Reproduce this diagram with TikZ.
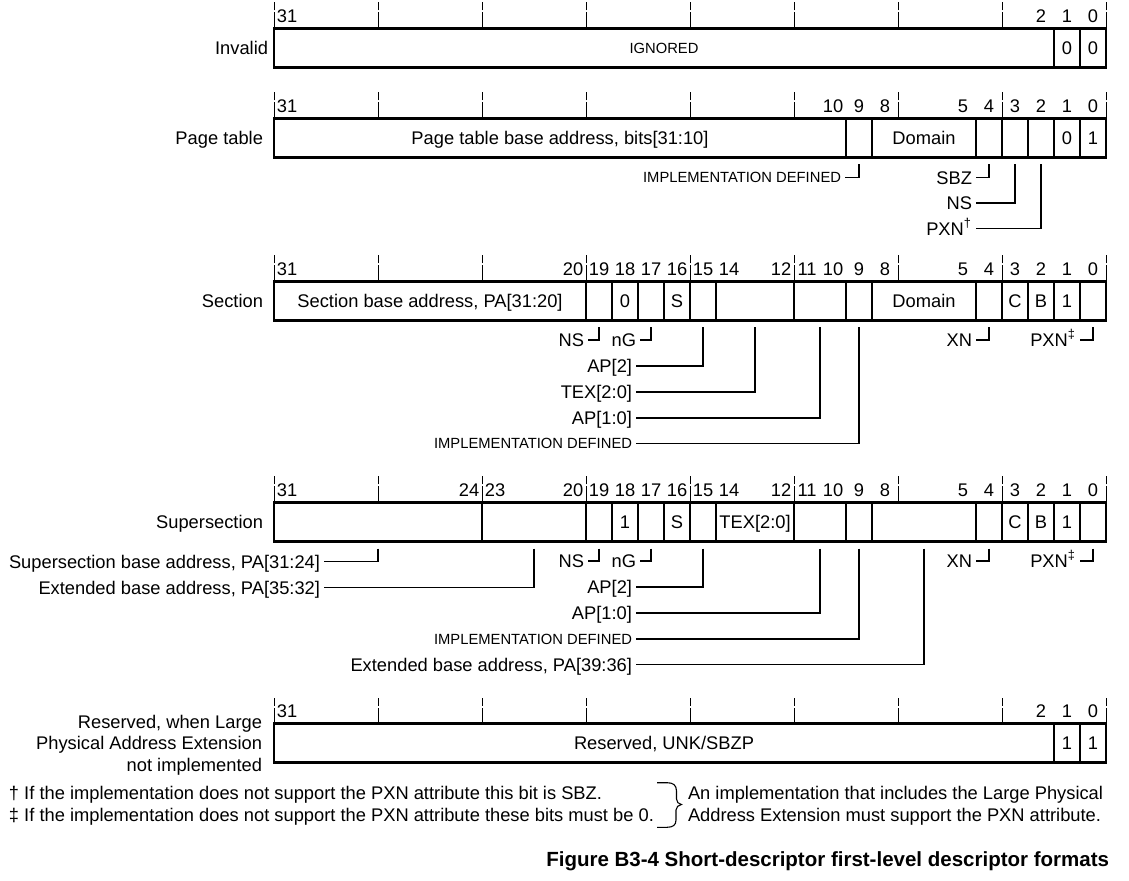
\documentclass[tikz,border=0pt]{standalone}
\usepackage{fontspec}
\setmainfont{Liberation Sans}
\newcommand\fsmain{\fontsize{9.15}{11}\selectfont}
\newcommand\fssmall{\fontsize{7.38}{9}\selectfont}
\newcommand\fscap{\fontsize{10.25}{12}\selectfont\bfseries}
\tikzset{
  regbox/.style={line width=1.1pt},
  bitdiv/.style={line width=1.1pt},
  nibtick/.style={line width=0.5pt, dash pattern=on 8pt off 1pt},
  lead/.style={line width=0.55pt},
  txt/.style={inner sep=0pt, outer sep=0pt, font=\fsmain, text height=6.55pt, text depth=0pt},
  stxt/.style={inner sep=0pt, outer sep=0pt, font=\fssmall, text height=5.28pt, text depth=0pt},
  ctxt/.style={inner sep=0pt, outer sep=0pt, font=\fscap, text height=7.34pt, text depth=0pt},
}
% #1 name, #2 top y, #3 divider bits, #4 bit numbers
\newcommand\regrow[4]{%
  \draw[regbox] (274,#2) rectangle (1106,{#2+39});
  \foreach \b in {#3} \draw[bitdiv] ({274+(31-\b)*26},#2) -- ({274+(31-\b)*26},{#2+39});
  \foreach \k in {0,...,8} \draw[nibtick] ({274+104*\k},#2) -- ({274+104*\k},{#2-26});
  \foreach \b in {#4} \node[txt] (#1-n\b) at ({287+(31-\b)*26},{#2-13}) {\b};
}
% #1 name, #2 style, #3 vertical x, #4 start y, #5 text east x, #6 y, #7 text
\newcommand\leadto[7]{%
  \coordinate (#1-s) at (#3,#4);
  \node[#2, anchor=east] (#1) at (#5,#6) {#7};
  \draw[lead] (#1-s) |- ([xshift=2pt]#1.east);
}
\begin{document}
\begin{tikzpicture}[x=0.5pt, y=-0.5pt]
\fill[white] (0,0) rectangle (1129,881);
\useasboundingbox (0,0) rectangle (1129,881);

% ---------- Invalid ----------
\regrow{inv}{28.5}{1,0}{31,2,1,0}
\node[txt, anchor=east] (inv-lbl) at (268,48) {Invalid};
\node[stxt] (inv-f1) at (664,48) {IGNORED};
\node[txt] (inv-f2) at (1067,48) {0};
\node[txt] (inv-f3) at (1093,48) {0};

% ---------- Page table ----------
\regrow{pt}{118.5}{9,8,4,3,2,1,0}{31,10,9,8,5,4,3,2,1,0}
\node[txt, anchor=east] (pt-lbl) at (263,138) {Page table};
\node[txt] (pt-f1) at (560,138) {Page table base address, bits[31:10]};
\node[txt] (pt-f2) at (924,138) {Domain};
\node[txt] (pt-f3) at (1067,138) {0};
\node[txt] (pt-f4) at (1093,138) {1};
\leadto{pt-impl}{stxt}{859}{164.5}{841}{177.5}{IMPLEMENTATION DEFINED}
\leadto{pt-sbz}{txt}{989}{164.5}{972}{177.5}{SBZ}
\leadto{pt-ns}{txt}{1015}{164.5}{972}{203}{NS}
\leadto{pt-pxn}{txt}{1041}{164.5}{972}{228.5}{PXN\textsuperscript{†}}

% ---------- Section ----------
\regrow{sec}{281.5}{19,18,17,16,15,14,11,9,8,4,3,2,1,0}{31,20,19,18,17,16,15,14,12,11,10,9,8,5,4,3,2,1,0}
\node[txt, anchor=east] (sec-lbl) at (263,301) {Section};
\node[txt] (sec-f1) at (430,301) {Section base address, PA[31:20]};
\node[txt] (sec-f2) at (625,301) {0};
\node[txt] (sec-f3) at (677,301) {S};
\node[txt] (sec-f4) at (924,301) {Domain};
\node[txt] (sec-f5) at (1015,301) {C};
\node[txt] (sec-f6) at (1041,301) {B};
\node[txt] (sec-f7) at (1067,301) {1};
\leadto{sec-ns}{txt}{599}{327.5}{584}{340}{NS}
\leadto{sec-ng}{txt}{651}{327.5}{636}{340}{nG}
\leadto{sec-ap2}{txt}{703}{327.5}{632}{366}{AP[2]}
\leadto{sec-tex}{txt}{755}{327.5}{632}{392}{TEX[2:0]}
\leadto{sec-ap10}{txt}{820}{327.5}{632}{418}{AP[1:0]}
\leadto{sec-impl}{stxt}{859}{327.5}{632}{443.5}{IMPLEMENTATION DEFINED}
\leadto{sec-xn}{txt}{989}{327.5}{972}{340}{XN}
\leadto{sec-pxn}{txt}{1093}{327.5}{1076}{340}{PXN\textsuperscript{‡}}

% ---------- Supersection ----------
\regrow{ss}{502.5}{23,19,18,17,16,15,14,11,9,8,4,3,2,1,0}{31,24,23,20,19,18,17,16,15,14,12,11,10,9,8,5,4,3,2,1,0}
\node[txt, anchor=east] (ss-lbl) at (263,522) {Supersection};
\node[txt] (ss-f1) at (625,522) {1};
\node[txt] (ss-f2) at (677,522) {S};
\node[txt] (ss-f3) at (755,522) {TEX[2:0]};
\node[txt] (ss-f4) at (1015,522) {C};
\node[txt] (ss-f5) at (1041,522) {B};
\node[txt] (ss-f6) at (1067,522) {1};
\leadto{ss-sba}{txt}{378}{548.5}{320}{561.5}{Supersection base address, PA[31:24]}
\leadto{ss-eba}{txt}{534}{548.5}{320}{587.5}{Extended base address, PA[35:32]}
\leadto{ss-ns}{txt}{599}{548.5}{584}{561}{NS}
\leadto{ss-ng}{txt}{651}{548.5}{636}{561}{nG}
\leadto{ss-ap2}{txt}{703}{548.5}{632}{587}{AP[2]}
\leadto{ss-ap10}{txt}{820}{548.5}{632}{613}{AP[1:0]}
\leadto{ss-impl}{stxt}{859}{548.5}{632}{639}{IMPLEMENTATION DEFINED}
\leadto{ss-eba2}{txt}{924}{548.5}{632}{664.5}{Extended base address, PA[39:36]}
\leadto{ss-xn}{txt}{989}{548.5}{972}{561}{XN}
\leadto{ss-pxn}{txt}{1093}{548.5}{1076}{561}{PXN\textsuperscript{‡}}

% ---------- Reserved ----------
\regrow{res}{723.5}{1,0}{31,2,1,0}
\node[txt, anchor=east] (res-lbl1) at (262,721.5) {Reserved, when Large};
\node[txt, anchor=east] (res-lbl2) at (262,743.3) {Physical Address Extension};
\node[txt, anchor=east] (res-lbl3) at (262,765) {not implemented};
\node[txt] (res-f1) at (664,743) {Reserved, UNK/SBZP};
\node[txt] (res-f2) at (1067,743) {1};
\node[txt] (res-f3) at (1093,743) {1};

% ---------- Footnotes ----------
\node[txt, anchor=west] (fn1) at (9,793) {† If the implementation does not support the PXN attribute this bit is SBZ.};
\node[txt, anchor=west] (fn2) at (9,815) {‡ If the implementation does not support the PXN attribute these bits must be 0.};
\draw[lead] (657,782.7) -- (667,782.7)
  .. controls (673,782.7) and (676.5,785) .. (676.5,791) -- (676.5,799)
  .. controls (676.5,802) and (678.5,804) .. (681.5,804.5)
  .. controls (678.5,805) and (676,807) .. (676,810) -- (676,820)
  .. controls (676,825) and (673,827.3) .. (667,827.3) -- (657,827.3);
\node[txt, anchor=west] (fn3) at (688,793) {An implementation that includes the Large Physical};
\node[txt, anchor=west] (fn4) at (688,815) {Address Extension must support the PXN attribute.};

% ---------- Caption ----------
\node[ctxt, anchor=east] (cap) at (1109,859.5) {Figure B3-4 Short-descriptor first-level descriptor formats};
\end{tikzpicture}
\end{document}
